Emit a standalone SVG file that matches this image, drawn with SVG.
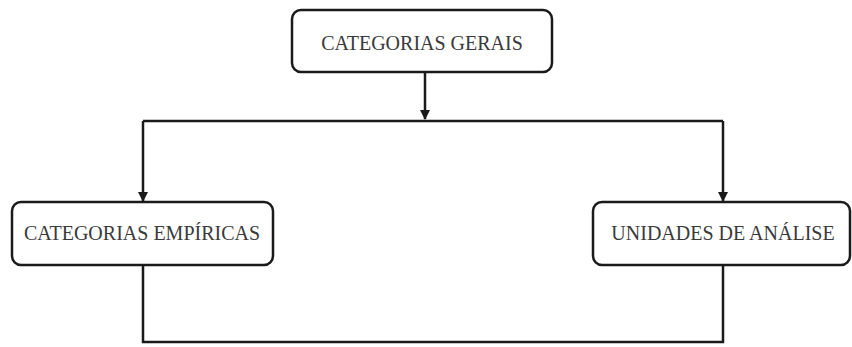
<svg xmlns="http://www.w3.org/2000/svg" width="852" height="347" viewBox="0 0 852 347">
<style>
.box{fill:#fff;stroke:#1a1a1a;stroke-width:2.5}
.lbl{font-family:"Liberation Serif","Times New Roman",serif;font-size:20px;fill:#3a3a3a;text-anchor:middle}
.con{fill:none;stroke:#1a1a1a;stroke-width:2.5}
</style>
<defs>
<marker id="arr" viewBox="0 0 10 10" refX="9" refY="5" markerWidth="4" markerHeight="4" orient="auto">
<path d="M0,0 L10,5 L0,10 z" fill="#1a1a1a"/>
</marker>
</defs>
<rect width="852" height="347" fill="#fff"/>
<g id="connectors">
<path class="con" d="M425,72 V119" marker-end="url(#arr)"/>
<path class="con" d="M143,121 H723"/>
<path class="con" d="M143,121 V201" marker-end="url(#arr)"/>
<path class="con" d="M723,121 V201" marker-end="url(#arr)"/>
<path class="con" d="M143,265 V342 H723 V265"/>
</g>
<g id="categorias-gerais">
<rect class="box" x="292" y="10" width="260" height="62" rx="9"/>
<text class="lbl" x="422" y="50">CATEGORIAS GERAIS</text>
</g>
<g id="categorias-empiricas">
<rect class="box" x="12" y="202" width="261" height="63" rx="9"/>
<text class="lbl" x="142" y="240">CATEGORIAS EMPÍRICAS</text>
</g>
<g id="unidades-de-analise">
<rect class="box" x="593" y="202" width="257" height="63" rx="9"/>
<text class="lbl" x="723" y="240">UNIDADES DE ANÁLISE</text>
</g>
</svg>
